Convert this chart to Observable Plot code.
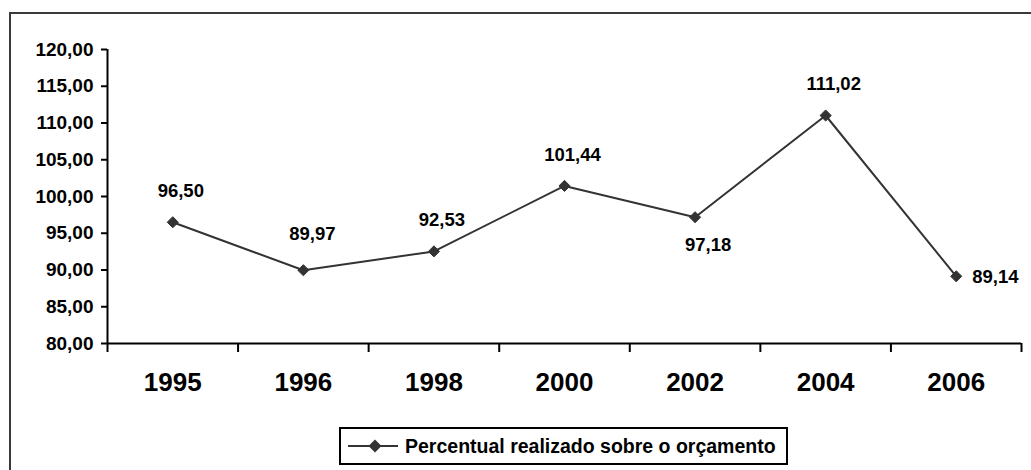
<!DOCTYPE html>
<html><head><meta charset="utf-8">
<script src="https://cdn.jsdelivr.net/npm/d3@7"></script>
<script src="https://cdn.jsdelivr.net/npm/@observablehq/plot@0.6"></script>
<style>
html,body{margin:0;padding:0;background:#fff;overflow:hidden}
#wrap{position:relative;width:1031px;height:470px;font-family:"Liberation Sans",Arial,sans-serif;overflow:hidden}
#border{position:absolute;left:9px;top:12px;width:1060px;height:500px;border:2px solid #3a3a3a;box-sizing:border-box}
#chart{position:absolute;left:0;top:0}
#chart svg text{font-weight:bold !important}
#legend{position:absolute;left:339px;top:427px;width:449px;height:38px;border:2px solid #000;box-sizing:border-box;display:flex;align-items:center;font-weight:bold;font-size:19.5px;white-space:nowrap;background:#fff;color:#000}
#legend svg{margin-left:6px;margin-right:6px}
</style>
</head><body>
<div id="wrap">
  <div id="border"></div>
  <div id="chart"></div>
  <div id="legend"></div>
</div>
<script>
const years = ["1995", "1996", "1998", "2000", "2002", "2004", "2006"];
const values = [96.50, 89.97, 92.53, 101.44, 97.18, 111.02, 89.14];
const yTicks = [80, 85, 90, 95, 100, 105, 110, 115, 120];
const seriesName = "Percentual realizado sobre o orçamento";

const fmt = v => v.toFixed(2).replace(".", ",");
const data = years.map((year, i) => ({year, value: values[i], pos: i + 0.5}));
const lineColor = "#333333";
const font = "'Liberation Sans', Arial, sans-serif";

const above = new Set(["1995", "1998", "2000", "2004"]);
const aboveHigh = new Set(["1996"]);
const below = new Set(["2002"]);
const right = new Set(["2006"]);
const labelStyle = {fontSize: 18.5, fontWeight: "bold", letterSpacing: "0.5px", fill: "#000"};

const chart = Plot.plot({
  width: 1031,
  height: 425,
  marginLeft: 107,
  marginRight: 10,
  marginTop: 49,
  marginBottom: 82,
  style: {fontFamily: font, background: "transparent", color: "#000", overflow: "visible"},
  x: {type: "linear", domain: [0, years.length]},
  y: {domain: [80, 120]},
  marks: [
    Plot.axisY({ticks: yTicks, tickSize: 6, tickPadding: 8, tickFormat: fmt, fontSize: 19, fontWeight: "bold", letterSpacing: "0.4px", strokeWidth: 2, label: null}),
    Plot.axisX({ticks: d3.range(years.length + 1), tickSize: 9, tickFormat: () => "", strokeWidth: 2, label: null}),
    Plot.axisX({ticks: data.map(d => d.pos), tickSize: 0, tickPadding: 29, tickFormat: p => years[Math.floor(p)], fontSize: 26, fontWeight: "bold", label: null}),
    Plot.ruleX([0], {stroke: "#000", strokeWidth: 2}),
    Plot.ruleY([80], {stroke: "#000", strokeWidth: 2}),
    Plot.line(data, {x: "pos", y: "value", stroke: lineColor, strokeWidth: 2}),
    Plot.dot(data, {x: "pos", y: "value", symbol: "diamond2", r: 5, fill: lineColor, stroke: lineColor, strokeWidth: 1}),
    Plot.text(data, {filter: d => above.has(d.year), x: "pos", y: "value", text: d => fmt(d.value), dy: -31, dx: 8, ...labelStyle}),
    Plot.text(data, {filter: d => aboveHigh.has(d.year), x: "pos", y: "value", text: d => fmt(d.value), dy: -36, dx: 9, ...labelStyle}),
    Plot.text(data, {filter: d => below.has(d.year), x: "pos", y: "value", text: d => fmt(d.value), dy: 28, dx: 13, ...labelStyle}),
    Plot.text(data, {filter: d => right.has(d.year), x: "pos", y: "value", text: d => fmt(d.value), dx: 16, dy: 1, textAnchor: "start", ...labelStyle})
  ]
});
document.getElementById("chart").appendChild(chart);

const legend = document.getElementById("legend");
legend.innerHTML = `<svg width="52" height="16" viewBox="0 0 52 16"><line x1="1" y1="8" x2="51" y2="8" stroke="${lineColor}" stroke-width="2"/><path d="M28,1.5L34.5,8L28,14.5L21.5,8Z" fill="${lineColor}"/></svg><span></span>`;
legend.querySelector("span").textContent = seriesName;
</script>
</body></html>
